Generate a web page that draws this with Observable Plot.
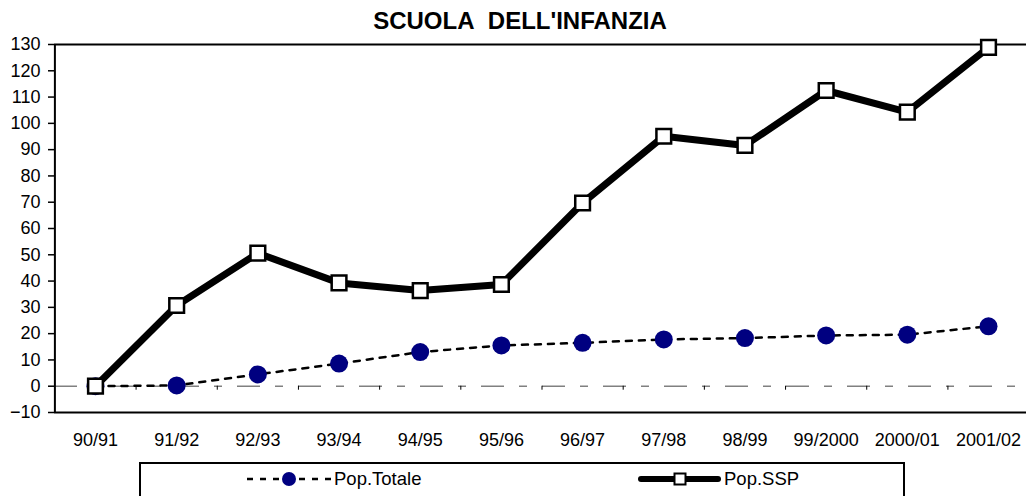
<!DOCTYPE html>
<html>
<head>
<meta charset="utf-8">
<script src="https://cdn.jsdelivr.net/npm/d3@7"></script>
<script src="https://cdn.jsdelivr.net/npm/@observablehq/plot@0.6"></script>
<style>
  html, body { margin: 0; padding: 0; background: #fff; }
  body { width: 1026px; height: 496px; overflow: hidden; font-family: "Liberation Sans", Arial, sans-serif; color: #000; }
  #title { height: 28px; position: relative; }
  #title span { position: absolute; left: 0; width: 1040px; text-align: center; top: 8px; font-weight: bold; font-size: 24px; line-height: 26px; }
  #chart svg { display: block; overflow: visible; }
  #legend { position: relative; height: 42px; }
  #legend svg { position: absolute; left: 0; top: 0; }
</style>
</head>
<body>
<div id="title"><span>SCUOLA&nbsp;&nbsp;DELL'INFANZIA</span></div>
<div id="chart"></div>
<div id="legend"></div>
<script>
const categories = ["90/91", "91/92", "92/93", "93/94", "94/95", "95/96", "96/97", "97/98", "98/99", "99/2000", "2000/01", "2001/02"];
const popTotale = [0, 0.3, 4.5, 8.6, 13, 15.5, 16.5, 17.8, 18.3, 19.3, 19.6, 22.8];
const popSSP = [0, 30.7, 50.6, 39.3, 36.4, 38.7, 69.7, 95.1, 91.6, 112.5, 104.3, 128.9];
const yTicks = [-10, 0, 10, 20, 30, 40, 50, 60, 70, 80, 90, 100, 110, 120, 130];
const seriesNames = ["Pop.Totale", "Pop.SSP"];

const idx = categories.map((_, i) => i);
const totData = idx.map(i => ({i, v: popTotale[i]}));
const sspData = idx.map(i => ({i, v: popSSP[i]}));
const boundaries = idx.slice(0, -1).map(i => i + 0.5);
const yMin = yTicks[0], yMax = yTicks[yTicks.length - 1];

const chart = Plot.plot({
  width: 1026,
  height: 426,
  marginTop: 16,
  marginBottom: 42,
  marginLeft: 54,
  marginRight: 0,
  style: {fontFamily: "'Liberation Sans', Arial, sans-serif", fontSize: "18px", color: "#000", background: "#fff"},
  x: {type: "linear", domain: [-0.5, idx.length - 0.5], range: [54.4, 1028.6], label: null},
  y: {domain: [yMin, yMax], label: null},
  marks: [
    Plot.ruleY([0], {stroke: "#808080", strokeWidth: 1.5, strokeDasharray: "23,15,8,15"}),
    Plot.ruleX(boundaries, {x: d => d, y1: 0, y2: 0, insetBottom: -4, stroke: "#000", strokeWidth: 1}),
    Plot.ruleY([yMin, yMax], {stroke: "#000", strokeWidth: 2}),
    Plot.ruleX([-0.5], {y1: yMin, y2: yMax, stroke: "#000", strokeWidth: 2}),
    Plot.axisY({ticks: yTicks, label: null, tickSize: 6, tickPadding: 8, fontSize: 18, stroke: "#000", strokeWidth: 1.5, strokeOpacity: 1}),
    Plot.axisX({ticks: idx, label: null, tickFormat: i => categories[i], tickSize: 0, tickPadding: 21, fontSize: 18}),
    Plot.line(totData, {x: "i", y: "v", stroke: "#000", strokeWidth: 2.5, strokeDasharray: "6,7"}),
    Plot.dot(totData, {x: "i", y: "v", r: 9, fill: "#000080", stroke: "none"}),
    Plot.line(sspData, {x: "i", y: "v", stroke: "#000", strokeWidth: 7, strokeLinejoin: "round"}),
    Plot.dot(sspData, {x: "i", y: "v", symbol: "square", r: 8.3, fill: "#fff", stroke: "#000", strokeWidth: 2.5})
  ]
});
document.getElementById("chart").appendChild(chart);

// Legend
const ns = "http://www.w3.org/2000/svg";
const lg = document.createElementNS(ns, "svg");
lg.setAttribute("width", 1026);
lg.setAttribute("height", 42);
const cy = 25;
lg.innerHTML = `
  <rect x="140" y="9" width="764" height="40" fill="#fff" stroke="#000" stroke-width="2"/>
  <line x1="247" x2="332" y1="${cy}" y2="${cy}" stroke="#000" stroke-width="2.5" stroke-dasharray="6,7"/>
  <circle cx="289" cy="${cy}" r="7" fill="#000080"/>
  <text x="334" y="${cy}" dy="0.35em" font-size="18.5" font-family="Liberation Sans, Arial, sans-serif">${seriesNames[0]}</text>
  <line x1="641" x2="718" y1="${cy}" y2="${cy}" stroke="#000" stroke-width="6" stroke-linecap="round"/>
  <rect x="674.5" y="${cy - 5.5}" width="11" height="11" fill="#fff" stroke="#000" stroke-width="2"/>
  <text x="724" y="${cy}" dy="0.35em" font-size="18.5" font-family="Liberation Sans, Arial, sans-serif">${seriesNames[1]}</text>
`;
document.getElementById("legend").appendChild(lg);
</script>
</body>
</html>
